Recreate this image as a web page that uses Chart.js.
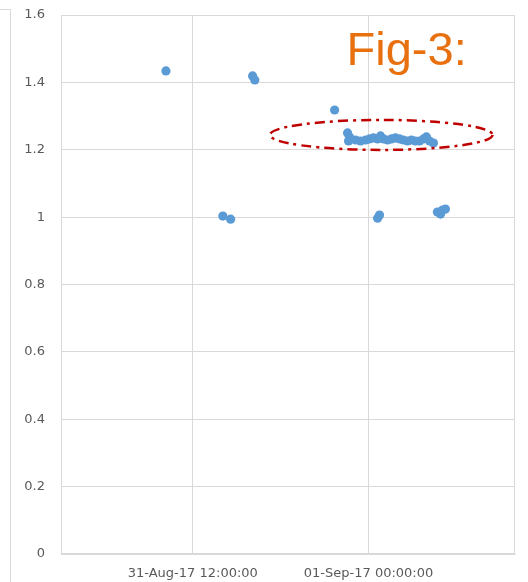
<!DOCTYPE html>
<html>
<head>
<meta charset="utf-8">
<script src="https://cdn.jsdelivr.net/npm/chart.js@4/dist/chart.umd.min.js"></script>
<style>
  html, body { margin: 0; padding: 0; background: #ffffff; }
  #wrap { width: 528px; height: 582px; position: relative; }
</style>
</head>
<body>
<div id="wrap"><canvas id="c" width="528" height="582"></canvas></div>
<script>
// Sample timestamps (UTC) and measured values
const sampleTimes = [
  "2017-08-31T10:10", "2017-08-31T14:03", "2017-08-31T14:35", "2017-08-31T16:05",
  "2017-08-31T16:14", "2017-08-31T21:41", "2017-08-31T22:34", "2017-08-31T22:42",
  "2017-08-31T22:38", "2017-08-31T23:07", "2017-08-31T23:27", "2017-08-31T23:48",
  "2017-09-01T00:04", "2017-09-01T00:20", "2017-09-01T00:37", "2017-09-01T00:49",
  "2017-09-01T01:01", "2017-09-01T01:18", "2017-09-01T01:34", "2017-09-01T01:50",
  "2017-09-01T02:07", "2017-09-01T02:23", "2017-09-01T02:40", "2017-09-01T02:56",
  "2017-09-01T03:12", "2017-09-01T03:29", "2017-09-01T03:45", "2017-09-01T03:57",
  "2017-09-01T04:10", "2017-09-01T04:26", "2017-09-01T00:37", "2017-09-01T00:45",
  "2017-09-01T04:42", "2017-09-01T04:55", "2017-09-01T05:03", "2017-09-01T05:15"
];
const sampleValues = [
  1.434, 1.003, 0.994, 1.419,
  1.407, 1.318, 1.250, 1.238,
  1.226, 1.229, 1.226, 1.229,
  1.232, 1.235, 1.232, 1.241,
  1.232, 1.229, 1.232, 1.235,
  1.232, 1.229, 1.226, 1.229,
  1.226, 1.226, 1.232, 1.238,
  1.226, 1.220, 0.997, 1.006,
  1.015, 1.009, 1.021, 1.024
];

// Axis range and labelled ticks
const axisStart = "2017-08-31T03:00";
const axisEnd = "2017-09-01T10:00";
const tickTimes = ["2017-08-31T12:00", "2017-09-01T00:00"];
const tickLabels = ["31-Aug-17 12:00:00", "01-Sep-17 00:00:00"];
const yMin = 0, yMax = 1.6, yStep = 0.2;

// Highlight ellipse around the steady cluster (centre time/value, half-extent in hours/value)
const ringCentre = { time: "2017-09-01T00:52", value: 1.244 };
const ringHalfHours = 7.6, ringHalfValue = 0.0445;
const figTitle = "Fig-3:";
const figTitleAt = { time: "2017-08-31T22:30", value: 1.452 };

const toMs = t => Date.parse(t + ":00Z");
const HOUR = 3600000;

const points = sampleTimes.map((t, i) => ({ x: toMs(t), y: sampleValues[i] }));

const frame = {
  id: 'frame',
  beforeDraw(chart) {
    const ctx = chart.ctx;
    ctx.save();
    ctx.strokeStyle = '#D9D9D9';
    ctx.lineWidth = 1;
    ctx.beginPath();
    ctx.moveTo(0, 9.5);
    ctx.lineTo(10.5, 9.5);
    ctx.lineTo(10.5, chart.height);
    ctx.stroke();
    ctx.restore();
  },
  afterDraw(chart) {
    const { ctx, chartArea: a, scales } = chart;
    ctx.save();
    ctx.strokeStyle = '#D9D9D9';
    ctx.lineWidth = 1;
    ctx.strokeRect(Math.round(a.left) + 0.5, Math.round(a.top) + 0.5,
                   Math.round(a.right - a.left) - 1, Math.round(a.bottom - a.top) - 1);

    // dash-dot ellipse
    const cx = scales.x.getPixelForValue(toMs(ringCentre.time));
    const cy = scales.y.getPixelForValue(ringCentre.value);
    const rx = scales.x.getPixelForValue(toMs(ringCentre.time) + ringHalfHours * HOUR) - cx;
    const ry = cy - scales.y.getPixelForValue(ringCentre.value + ringHalfValue);
    ctx.strokeStyle = '#C00000';
    ctx.lineWidth = 2.5;
    ctx.setLineDash([10, 5, 3, 5]);
    ctx.beginPath();
    ctx.ellipse(cx, cy, rx, ry, 0, 0, Math.PI * 2);
    ctx.stroke();
    ctx.setLineDash([]);

    // figure caption
    ctx.fillStyle = '#E8700F';
    ctx.font = '47px "Liberation Sans", Arial, sans-serif';
    ctx.textAlign = 'left';
    ctx.textBaseline = 'alphabetic';
    ctx.fillText(figTitle, scales.x.getPixelForValue(toMs(figTitleAt.time)),
                 scales.y.getPixelForValue(figTitleAt.value));
    ctx.restore();
  }
};

new Chart(document.getElementById('c'), {
  type: 'scatter',
  data: {
    datasets: [{
      data: points,
      backgroundColor: '#5B9BD5',
      borderColor: '#5B9BD5',
      borderWidth: 0,
      pointRadius: 4.6,
      pointHoverRadius: 4.6
    }]
  },
  options: {
    responsive: false,
    animation: false,
    devicePixelRatio: 1,
    layout: { padding: { top: 15, right: 13, left: 0, bottom: 0 } },
    plugins: { legend: { display: false }, tooltip: { enabled: false } },
    scales: {
      x: {
        type: 'linear',
        min: toMs(axisStart),
        max: toMs(axisEnd),
        afterBuildTicks(scale) {
          scale.ticks = tickTimes.map(t => ({ value: toMs(t) }));
        },
        afterFit(scale) {
          scale.height = 28;
          scale.paddingLeft = 0;
          scale.paddingRight = 0;
        },
        ticks: {
          autoSkip: false,
          maxRotation: 0,
          padding: 12,
          color: '#595959',
          font: { family: '"DejaVu Sans", sans-serif', size: 13 },
          callback(value) {
            const i = tickTimes.findIndex(t => toMs(t) === value);
            return i >= 0 ? tickLabels[i] : '';
          }
        },
        grid: { color: '#D9D9D9', lineWidth: 1, drawTicks: false },
        border: { display: true, color: '#D9D9D9' }
      },
      y: {
        min: yMin,
        max: yMax,
        afterFit(scale) {
          scale.width = 61;
          scale.paddingTop = 0;
          scale.paddingBottom = 0;
        },
        ticks: {
          stepSize: yStep,
          padding: 16,
          color: '#595959',
          font: { family: '"DejaVu Sans", sans-serif', size: 13 },
          callback: v => String(Number(v.toFixed(1)))
        },
        grid: { color: '#D9D9D9', lineWidth: 1, drawTicks: false },
        border: { display: true, color: '#D9D9D9' }
      }
    }
  },
  plugins: [frame]
});
</script>
</body>
</html>
